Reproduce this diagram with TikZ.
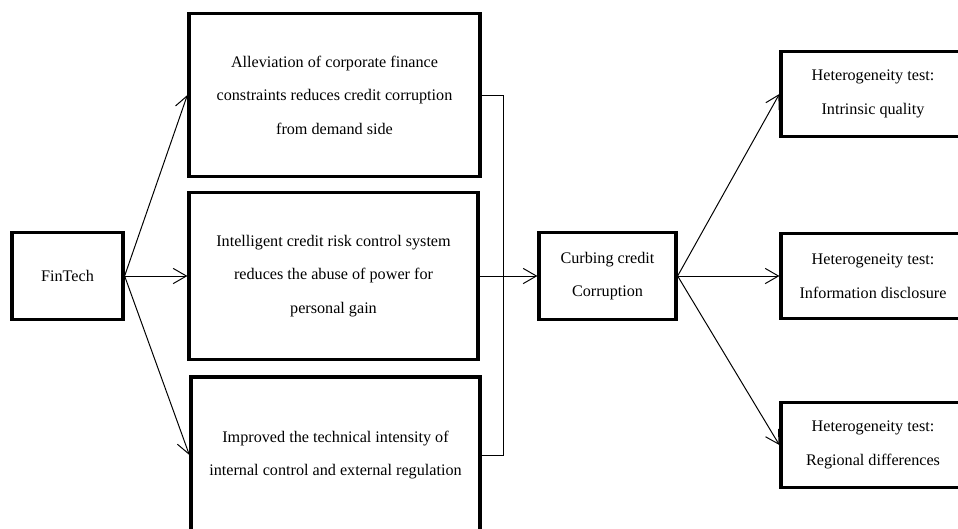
\documentclass[tikz,border=0pt]{standalone}
\usepackage{fontspec}
\setmainfont{Liberation Serif}
\usetikzlibrary{arrows.meta}
\newcommand{\pxl}{0.025cm}
\begin{document}
\begin{tikzpicture}
    [%%%%%%%%%%%%%%%%%%%%%%%%%%%%%%
        x=0.025cm, y=-0.025cm,
        box/.style={rectangle,draw=black,line width=2.3pt,align=center,inner sep=0pt,
            font=\fontsize{11.5}{23.8}\selectfont},
        link/.style={line width=0.7pt,-{Straight Barb[length=0.33cm,width=0.38cm]}},
    ]%%%%%%%%%%%%%%%%%%%%%%%%%%%%%%
\useasboundingbox (0,0) rectangle (958,528);
\clip (0,0) rectangle (958,528);

\node[box,minimum width=111*\pxl,minimum height=87*\pxl] (fin) at (67.5,276) {FinTech};

\node[box,minimum width=291*\pxl,minimum height=163*\pxl] (dem) at (334.5,95)
    {Alleviation of corporate finance\\constraints reduces credit corruption\\from demand side};
\node[box,minimum width=289*\pxl,minimum height=167*\pxl] (risk) at (333.5,276)
    {Intelligent credit risk control system\\reduces the abuse of power for\\personal gain};
\node[box,minimum width=289*\pxl,minimum height=156*\pxl] (reg) at (335.5,455)
    {Improved the technical intensity of\\internal control and external regulation};

\node[box,minimum width=137*\pxl,minimum height=87*\pxl] (curb) at (607.5,276)
    {Curbing credit\\Corruption};

\foreach \n/\y/\txt in {qual/94/Intrinsic quality,disc/276/Information disclosure,regn/445/Regional differences}
    \node[box,minimum width=184*\pxl,minimum height=85*\pxl] (\n) at (873,\y)
        {Heterogeneity test:\\\txt};

\foreach \n in {dem,risk,reg}
    \draw[link] (fin.east) -- (\n.west);

\draw[line width=0.7pt] (dem.east) -- ++(22,0) |- (reg.east);
\draw[link] (risk.east) -- (curb.west);

\foreach \n in {qual,disc,regn}
    \draw[link] (curb.east) -- (\n.west);
\end{tikzpicture}
\end{document}
